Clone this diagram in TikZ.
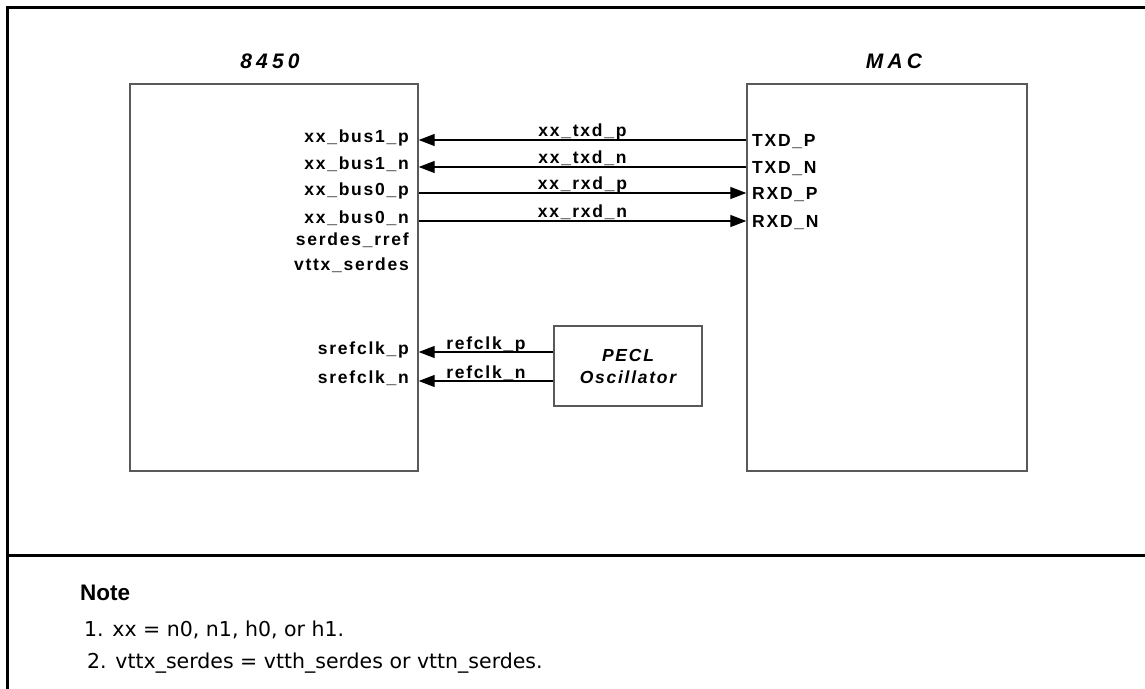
\documentclass[tikz,border=0pt]{standalone}
\usepackage{fontspec}
\setmainfont{Liberation Sans}
\newfontfamily\pinfont[LetterSpace=10]{Liberation Sans}
\newfontfamily\ttlfont[LetterSpace=20]{Liberation Sans}
\newfontfamily\notefont{DejaVu Sans}
\usetikzlibrary{arrows.meta,positioning}

\begin{document}
\begin{tikzpicture}[x=1pt,y=-1pt,
 box/.style={draw=black!65,line width=1.4pt,inner sep=0pt},
 ttl/.style={font=\ttlfont\bfseries\itshape\fontsize{21}{25}\selectfont,inner sep=2pt},
 pin/.style={font=\pinfont\bfseries\fontsize{17.5}{21}\selectfont,inner sep=0pt},
 lbl/.style={pin,anchor=base,yshift=4pt},
 sig/.style={line width=1.3pt,-{Triangle[length=16pt,width=12pt]}},
 frame/.style={line width=3pt}]
\useasboundingbox (0,0) rectangle (1145,688);
% outer frame and note divider
\draw[frame] (7,692) -- (7,7) -- (1150,7);
\draw[frame] (7,555) -- (1150,555);

% the two chips and the oscillator
\node[box,minimum width=288pt,minimum height=387pt] (chip) at (274,277.5) {};
\node[box,minimum width=280pt,minimum height=387pt] (mac) at (887,277.5) {};
\node[box,minimum width=148pt,minimum height=80pt,align=center,
  font=\pinfont\bfseries\itshape\fontsize{17.5}{22}\selectfont] (osc) at (628,366) {PECL\\Oscillator};
\node[ttl,above=12pt of chip,xshift=-4pt] (chipname) {8450};
\node[ttl,above=12pt of mac,xshift=7pt] (macname) {MAC};

% pins of the 8450
\foreach \i/\y/\txt in {1/140/xx\_bus1\_p,2/167/xx\_bus1\_n,3/193/xx\_bus0\_p,4/221/xx\_bus0\_n,
  5/243/serdes\_rref,6/268/vttx\_serdes,7/352/srefclk\_p,8/381/srefclk\_n}{
  \node[pin,anchor=base east] (cpin\i) at (409,\y+2) {\txt};
}
% pins of the MAC
\foreach \i/\y/\txt in {1/140/TXD\_P,2/167/TXD\_N,3/193/RXD\_P,4/221/RXD\_N}{
  \node[pin,anchor=base west] (mpin\i) at (752,\y+6) {\txt};
  \coordinate (c\i) at (chip.east |- 0,\y);
  \coordinate (m\i) at (mac.west |- 0,\y);
}
\coordinate (c7) at (chip.east |- 0,352);
\coordinate (c8) at (chip.east |- 0,381);
\coordinate (o7) at (osc.west |- 0,352);
\coordinate (o8) at (osc.west |- 0,381);

% serdes links
\draw[sig] (m1) -- node[lbl] (l1) {xx\_txd\_p} (c1);
\draw[sig] (m2) -- node[lbl] (l2) {xx\_txd\_n} (c2);
\draw[sig] (c3) -- node[lbl] (l3) {xx\_rxd\_p} (m3);
\draw[sig] (c4) -- node[lbl] (l4) {xx\_rxd\_n} (m4);
% reference clock
\draw[sig] (o7) -- node[lbl,yshift=-1pt] (l7) {refclk\_p} (c7);
\draw[sig] (o8) -- node[lbl,yshift=-1pt] (l8) {refclk\_n} (c8);

% notes
\node[anchor=base west,inner sep=0pt,font=\bfseries\fontsize{22.5}{26}\selectfont] (note) at (80,600) {Note};
\node[anchor=base west,inner sep=0pt,font=\notefont\fontsize{20.5}{24}\selectfont] (note1) at (84,636) {1. xx = n0, n1, h0, or h1.};
\node[anchor=base west,inner sep=0pt,font=\notefont\fontsize{20.5}{24}\selectfont] (note2) at (87,668) {2. vttx\_serdes = vtth\_serdes or vttn\_serdes.};
\end{tikzpicture}
\end{document}
